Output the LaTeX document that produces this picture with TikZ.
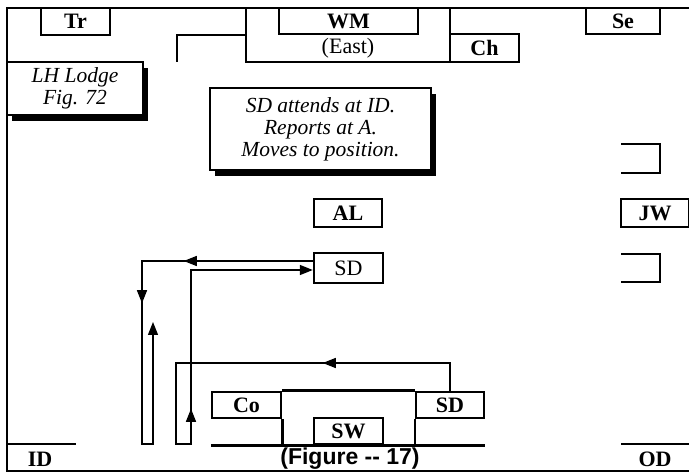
\documentclass[tikz,border=0pt]{standalone}
\usepackage{fontspec}
\setmainfont{Liberation Serif}
\setsansfont{Liberation Sans}
\usetikzlibrary{arrows.meta,decorations.markings,shadows}
\tikzset{
  lbl/.style={draw,line width=2.4pt,inner sep=0pt,font=\bfseries\fontsize{22}{24}\selectfont},
  plainlbl/.style={draw,line width=2.4pt,inner sep=0pt,font=\fontsize{22}{24}\selectfont},
  note/.style={draw,fill=white,line width=1.4pt,inner sep=0pt,align=center,
    font=\itshape\fontsize{21.5}{22}\selectfont,
    drop shadow={shadow xshift=5pt,shadow yshift=-6pt,opacity=1,fill=black}},
  wall/.style={line width=2.6pt},
  tip/.tip={Triangle[length=13pt,width=10pt]},
  flow/.style={line width=1.4pt,-tip},
  midtip/.style={postaction={decorate,decoration={markings,
    mark=at position #1 with {\arrow{tip}}}}}
}
\begin{document}
\begin{tikzpicture}[x=1pt,y=-1pt]
\useasboundingbox (0,0) rectangle (689,473);
% lodge frame
\draw[wall] (689,8) -- (7,8) -- (7,471) -- (689,471);
\draw[wall] (177,62) -- (177,35) -- (246,35);
\draw[wall] (246,8) -- (246,62) -- (519,62);
\draw[wall] (450,8) -- (450,62);
\foreach \nm/\txt/\cx/\cy/\w/\h in {
	tr/Tr/75.5/21.5/69/27,
	wm/WM/348.5/21/139/26,
	se/Se/623/21/74/26,
	ch/Ch/484.5/48/69/28,
	al/AL/348/213/68/28,
	jw/JW/655/213/68/28,
	co/Co/246.5/405/69/26,
	sdl/SD/450/405/68/26,
	sw/SW/348.5/431/69/26%
	}{
	\node[lbl,minimum width=\w pt,minimum height=\h pt] (\nm) at (\cx,\cy) {\txt};
	}
\node[font=\fontsize{22}{24}\selectfont] (east) at (348,48) {(East)};
\node[plainlbl,minimum width=69pt,minimum height=30pt] (sdu) at (348.5,268) {SD};
% side chairs
\draw[wall] (621,144) -- (660,144) -- (660,173) -- (621,173);
\draw[wall] (621,254) -- (660,254) -- (660,282) -- (621,282);
% south
\draw[wall] (co.north east) -- (sdl.north west);
\draw[wall] (co.south east) -- (co.east |- sw.south);
\draw[wall] (sdl.south west) -- (sdl.west |- sw.south);
\draw[wall] (co.west |- sw.south) -- (sdl.east |- sw.south);
\draw[wall] (7,444) -- (76,444);
\draw[wall] (621,444) -- (689,444);
\node[font=\bfseries\fontsize{22}{24}\selectfont] (id) at (40,459) {ID};
\node[font=\bfseries\fontsize{22}{24}\selectfont] (od) at (655,459) {OD};
\node[font=\sffamily\bfseries\fontsize{23}{24}\selectfont] (cap) at (350,459) {(Figure -{}- 17)};
% notes
\node[note,minimum width=136pt,minimum height=53pt] (lh) at (75,88.5) {LH Lodge\\Fig. 72};
\node[note,minimum width=221pt,minimum height=82pt] (memo) at (320.5,129) {SD attends at ID.\\Reports at A.\\Moves to position.};
% movements of the SD
\coordinate (turn) at (153,322);
\draw[flow,midtip=129pt,midtip=213pt] ([yshift=7pt]sdu.west) -- (142,261) -- (142,444) -- (153,444) -- (turn);
\draw[flow,midtip=155pt,midtip=433pt] (sdl.north) -- (450,363) -- (176,363) -- (176,444) -- (191,444) -- (191,270) -- ([yshift=-2pt]sdu.west);
\end{tikzpicture}
\end{document}
